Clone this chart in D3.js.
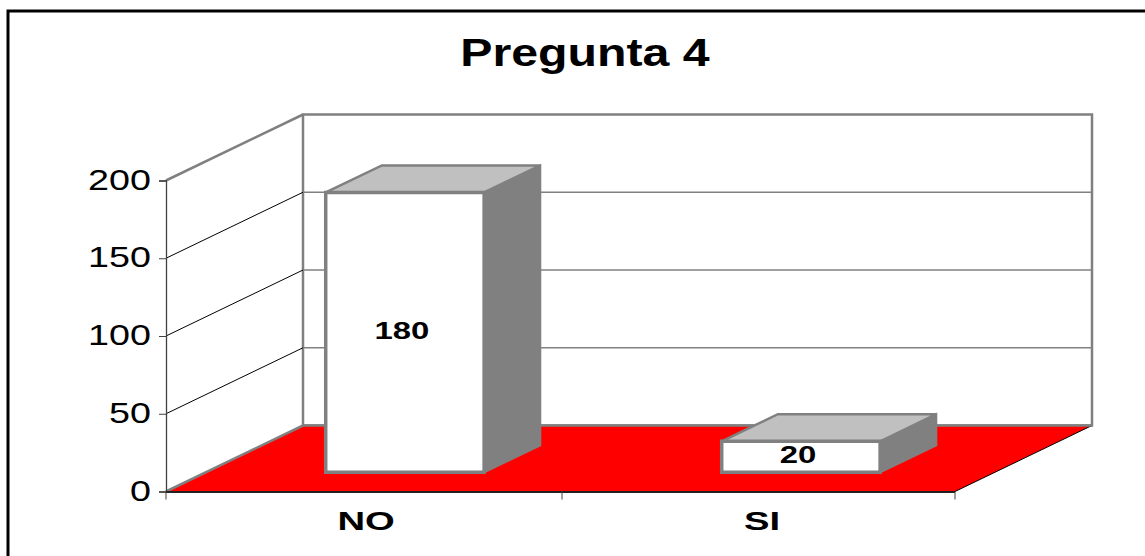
<!DOCTYPE html>
<html>
<head>
<meta charset="utf-8">
<script src="https://cdn.jsdelivr.net/npm/d3@7"></script>
<style>
html, body { margin: 0; padding: 0; background: #fff; overflow: hidden; }
text { font-family: "Liberation Sans", Arial, sans-serif; fill: #000; }
</style>
</head>
<body>
<svg id="chart" width="1145" height="556"></svg>
<script>
const categories = ["NO", "SI"];
const values = [180, 20];
const yTicks = [0, 50, 100, 150, 200];
const title = "Pregunta 4";

const GREY = "#808080";
const svg = d3.select("#chart");

// outer frame, only top and left edges are inside the picture
svg.append("rect")
    .attr("x", 8).attr("y", 11)
    .attr("width", 1160).attr("height", 580)
    .attr("fill", "#fff").attr("stroke", "#000").attr("stroke-width", 3);

const x = d3.scaleBand().domain(categories).range([166, 958]).paddingInner(0.6).paddingOuter(0.3).align(0.505);
const y = d3.scaleLinear().domain([0, 200]).range([491.5, 180.5]);

// oblique projection: depth 0 is the front plane, 1 the back wall
const depthX = 137, depthY = -66;
const project = (px, py, depth) => [px + depth * depthX, py + depth * depthY];
const poly = pts => pts.map(p => p.join(",")).join(" ");
const barFront = 0.29, barBack = 0.7;

const x0 = 166, x1 = 955;

// back wall
svg.append("polygon")
    .attr("points", poly([project(x0, y(0), 1), project(x1, y(0), 1), project(x1, y(200), 1), project(x0, y(200), 1)]))
    .attr("fill", "#fff").attr("stroke", GREY).attr("stroke-width", 2.5);

// gridlines: on the side wall in black, on the back wall in grey
const gridTicks = yTicks.filter(d => d > 0 && d < 200);
svg.selectAll(".grid-side").data(gridTicks).enter().append("line")
    .attr("x1", x0).attr("y1", d => y(d))
    .attr("x2", project(x0, 0, 1)[0]).attr("y2", d => project(x0, y(d), 1)[1])
    .attr("stroke", "#000").attr("stroke-width", 1);
svg.selectAll(".grid-back").data(gridTicks).enter().append("line")
    .attr("x1", project(x0, 0, 1)[0]).attr("y1", d => project(x0, y(d), 1)[1])
    .attr("x2", project(x1, 0, 1)[0]).attr("y2", d => project(x0, y(d), 1)[1])
    .attr("stroke", GREY).attr("stroke-width", 1.5);

// side wall top edge
svg.append("line")
    .attr("x1", x0).attr("y1", y(200))
    .attr("x2", project(x0, 0, 1)[0]).attr("y2", project(x0, y(200), 1)[1])
    .attr("stroke", GREY).attr("stroke-width", 2.5);

// floor
svg.append("polygon")
    .attr("points", poly([[x0, y(0)], [x1, y(0)], project(x1, y(0), 1), project(x0, y(0), 1)]))
    .attr("fill", "#f00");
svg.append("line")
    .attr("x1", x0).attr("y1", y(0))
    .attr("x2", project(x0, 0, 1)[0]).attr("y2", project(x0, y(0), 1)[1])
    .attr("stroke", GREY).attr("stroke-width", 2.5);
svg.append("line")
    .attr("x1", x1).attr("y1", y(0))
    .attr("x2", project(x1, 0, 1)[0]).attr("y2", project(x1, y(0), 1)[1])
    .attr("stroke", "#000").attr("stroke-width", 1);
svg.append("line")
    .attr("x1", project(x0, 0, 1)[0]).attr("y1", project(x0, y(0), 1)[1])
    .attr("x2", project(x1, 0, 1)[0]).attr("y2", project(x1, y(0), 1)[1])
    .attr("stroke", GREY).attr("stroke-width", 2.5);

// axes
const yAxis = d3.axisLeft(y).tickValues(yTicks).tickSize(7).tickFormat(d3.format("d")).tickPadding(6);
const gy = svg.append("g").attr("transform", `translate(${x0},0)`).call(yAxis);
gy.selectAll("path").attr("stroke", "#404040").attr("stroke-width", 1.3);
gy.selectAll("line").attr("stroke", "#404040");
gy.selectAll("text").remove();
svg.selectAll(".ytick").data(yTicks).enter().append("text")
    .attr("transform", d => `translate(151,${y(d) + 9}) scale(1.3,1)`)
    .attr("text-anchor", "end").attr("font-size", 29).text(d => d);

const step = x.step();
svg.append("line").attr("x1", x0).attr("x2", x1).attr("y1", y(0) + 0.5).attr("y2", y(0) + 0.5)
    .attr("stroke", "#222").attr("stroke-width", 2);
svg.selectAll(".xtick").data(d3.range(categories.length + 1)).enter().append("line")
    .attr("x1", d => Math.min(x0 + d * step, x1)).attr("x2", d => Math.min(x0 + d * step, x1))
    .attr("y1", y(0)).attr("y2", y(0) + 8)
    .attr("stroke", "#404040");

// bars
const bars = svg.selectAll(".bar").data(categories).enter().append("g");
bars.each(function(c, i) {
    const g = d3.select(this);
    const left = x(c), right = left + x.bandwidth();
    const top = y(values[i]), bottom = y(0);
    const A = project(left, top, barFront), B = project(right, top, barFront);
    const C = project(right, top, barBack), D = project(left, top, barBack);
    const E = project(right, bottom, barFront), F = project(right, bottom, barBack);
    const G = project(left, bottom, barFront);
    g.append("polygon").attr("points", poly([B, C, F, E]))
        .attr("fill", GREY).attr("stroke", GREY).attr("stroke-width", 2);
    g.append("polygon").attr("points", poly([A, B, C, D]))
        .attr("fill", "#c0c0c0").attr("stroke", GREY).attr("stroke-width", 2.5);
    g.append("polygon").attr("points", poly([A, B, E, G]))
        .attr("fill", "#fff").attr("stroke", GREY).attr("stroke-width", 3.5);
    // value label in the middle of the front face
    g.append("text")
        .attr("transform", `translate(${(A[0] + B[0]) / 2 - 3},${(A[1] + G[1]) / 2 + 6.5}) scale(1.4,1)`)
        .attr("text-anchor", "middle").attr("font-size", 23.5).attr("font-weight", "bold")
        .text(values[i]);
});

// category labels
svg.selectAll(".xlabel").data(categories).enter().append("text")
    .attr("transform", d => `translate(${x(d) + x.bandwidth() / 2 + 1},530) scale(1.5,1)`)
    .attr("text-anchor", "middle").attr("font-size", 25.5).attr("font-weight", "bold")
    .text(d => d);

// title
svg.append("text")
    .attr("transform", "translate(585,66) scale(1.27,1)")
    .attr("text-anchor", "middle").attr("font-size", 38).attr("font-weight", "bold")
    .text(title);
</script>
</body>
</html>
